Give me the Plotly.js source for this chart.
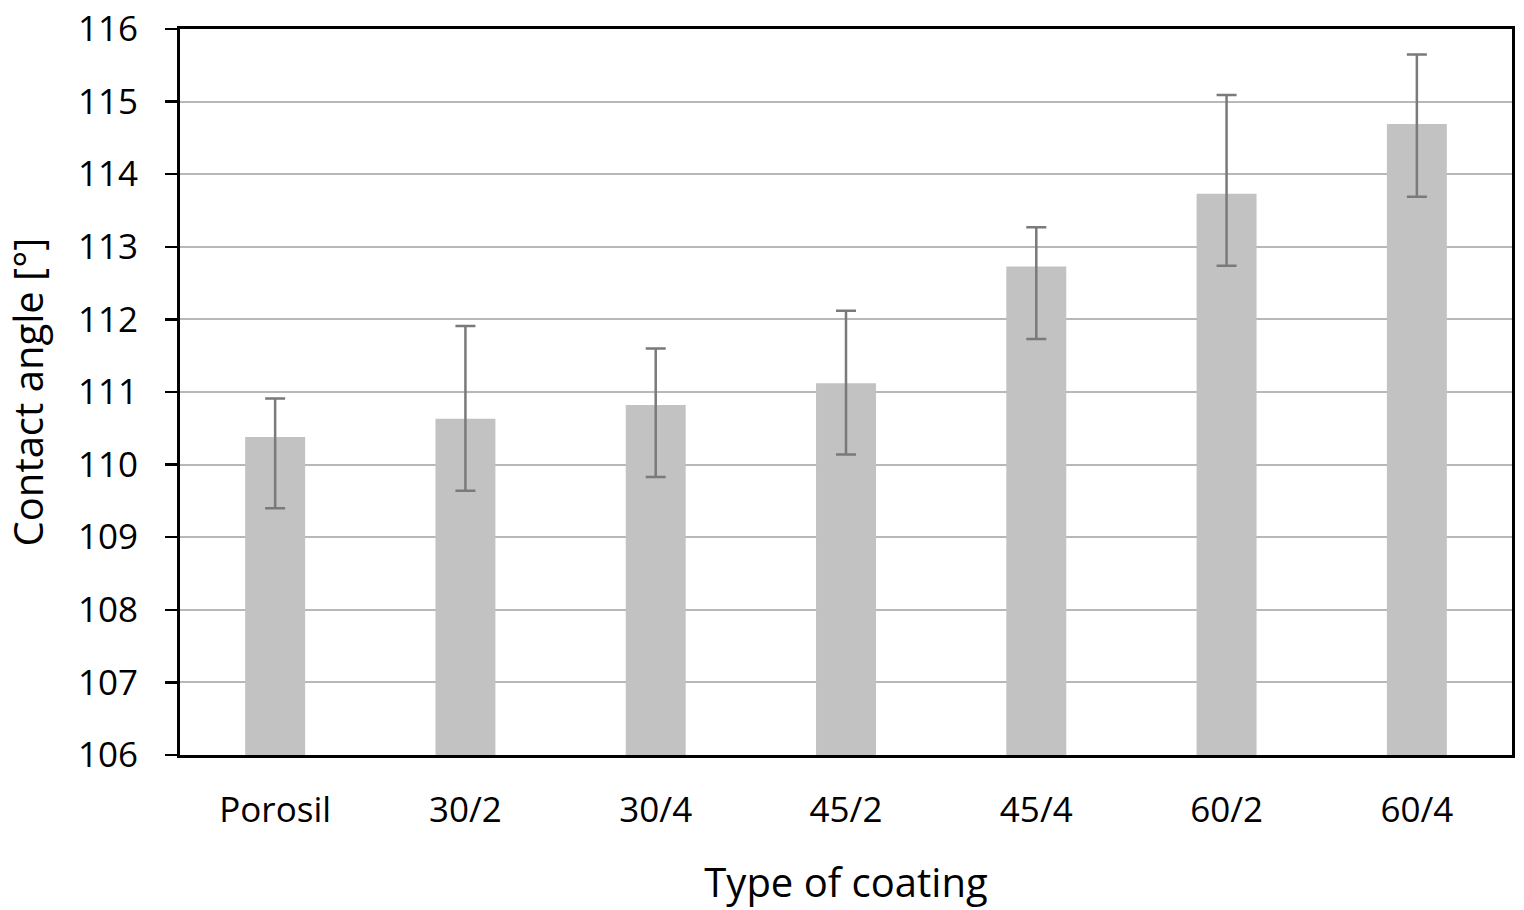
<!DOCTYPE html>
<html><head><meta charset="utf-8">
<script src="https://cdn.plot.ly/plotly-3.0.1.min.js"></script>
<style>html,body{margin:0;padding:0;background:#fff;}#chart{width:1524px;height:910px;}</style>
</head><body><div id="chart"></div>
<script>
const categories = ["Porosil", "30/2", "30/4", "45/2", "45/4", "60/2", "60/4"];
const contactAngle = [110.38, 110.63, 110.82, 111.12, 112.73, 113.73, 114.69];
const errorUpperBound = [110.91, 111.91, 111.60, 112.12, 113.27, 115.09, 115.65];
const errorLowerBound = [109.40, 109.64, 109.83, 110.14, 111.73, 112.74, 113.69];
const yTicks = [106, 107, 108, 109, 110, 111, 112, 113, 114, 115, 116];

const plus = contactAngle.map((v, i) => errorUpperBound[i] - v);
const minus = contactAngle.map((v, i) => v - errorLowerBound[i]);

const font = "Open Sans, Lato, sans-serif";
const trace = {
  type: "bar",
  x: categories,
  y: contactAngle,
  marker: {color: "#c2c2c2"},
  error_y: {type: "data", symmetric: false, array: plus, arrayminus: minus,
            color: "#7a7a7a", thickness: 2.5, width: 10},
  hoverinfo: "x+y"
};
const layout = {
  width: 1524, height: 910,
  margin: {l: 180, r: 12, t: 29, b: 155},
  paper_bgcolor: "#ffffff", plot_bgcolor: "#ffffff",
  bargap: 0.685,
  showlegend: false,
  font: {family: font, color: "#000", size: 35},
  xaxis: {
    type: "category",
    showline: true, linecolor: "#000", linewidth: 3, mirror: true,
    ticks: "", ticklabelstandoff: 22,
    tickfont: {family: font, size: 35, color: "#000"},
    title: {text: "Type of coating", font: {family: font, size: 40, color: "#000"}, standoff: 38}
  },
  yaxis: {
    range: [106, 116], tickvals: yTicks, ticktext: yTicks.map(String),
    showline: true, linecolor: "#000", linewidth: 3, mirror: true,
    ticks: "outside", ticklen: 12, tickwidth: 2.5, tickcolor: "#000",
    ticklabelstandoff: 20,
    showgrid: true, gridcolor: "#b8b8b8", gridwidth: 2,
    zeroline: false,
    tickfont: {family: font, size: 35, color: "#000"},
    title: {text: "Contact angle [°]", font: {family: font, size: 40, color: "#000"}, standoff: 37}
  }
};
Plotly.newPlot("chart", [trace], layout, {displayModeBar: false, staticPlot: true});
</script></body></html>
